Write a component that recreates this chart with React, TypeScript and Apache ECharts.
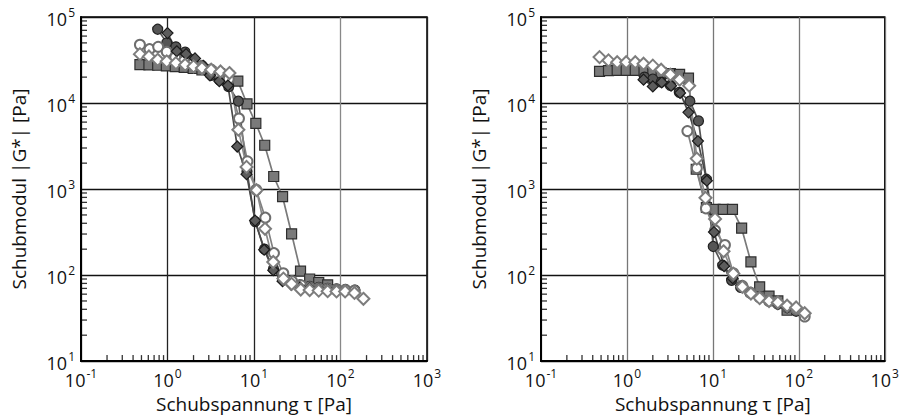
import React, { useEffect, useRef } from "react";
import * as echarts from "echarts";

// ---------- data: left panel ----------
const L_sq_x = [0.48, 0.61, 0.77, 0.97, 1.23, 1.56, 1.98, 2.5, 3.17, 4.0, 5.1, 6.5, 8.3, 10.5, 13.3, 16.9, 21.4, 27.2, 34.5, 44, 56, 71];
const L_sq_y = [28000, 27800, 27500, 27000, 26500, 26000, 25200, 24200, 23000, 22000, 20500, 18000, 9800, 5800, 3230, 1400, 815, 302, 111, 90, 82, 77];

const L_dc_x = [0.77, 0.98, 1.25, 1.6, 2.0, 2.5, 3.2, 4.0, 5.1, 6.6, 8.3, 10.3, 13.2, 16.8, 21.4, 27, 34, 44, 56, 71, 90, 114, 147];
const L_dc_y = [72000, 50000, 45000, 39000, 32000, 26000, 21000, 18500, 15500, 10500, 1600, 419, 200, 118, 92, 82, 77, 74, 72, 70, 69, 68, 67];

const L_oc_x = [0.48, 0.62, 0.78, 0.98, 1.23, 1.56, 1.98, 2.5, 3.17, 4.0, 5.1, 6.7, 8.4, 10.6, 13.5, 17, 21.8, 27.5, 35, 44, 56, 71, 90, 114, 145];
const L_oc_y = [47500, 42300, 45000, 39500, 34000, 31000, 29000, 27000, 24500, 22000, 19000, 6600, 2100, 980, 465, 180, 105, 85, 76, 72, 70, 69, 68, 67, 66];

const L_dd_x = [1.0, 1.28, 1.64, 2.08, 2.6, 3.1, 3.97, 5.0, 6.4, 8.2, 10.3, 13.1, 16.7, 21.4, 27, 34, 44, 56, 71, 90, 114];
const L_dd_y = [65000, 40000, 37000, 33000, 27000, 21000, 18000, 16000, 3120, 1490, 430, 197, 114, 85, 77, 72, 70, 68, 67, 66, 65];

const L_od_x = [0.48, 0.61, 0.77, 0.98, 1.25, 1.6, 2.0, 2.5, 3.2, 4.1, 5.2, 6.6, 8.2, 10.7, 13.4, 16.7, 21.9, 27.2, 34.7, 44, 56, 71, 90, 113, 145, 184];
const L_od_y = [37000, 34800, 31800, 30500, 29100, 27900, 26700, 25500, 24400, 23300, 22300, 4900, 1810, 970, 345, 142, 91, 79, 68, 67, 66, 65, 64.5, 64.5, 62, 53];

// ---------- data: right panel ----------
const R_sq_x = [0.48, 0.61, 0.77, 0.98, 1.25, 1.58, 2.0, 2.5, 3.2, 4.1, 5.2, 6.4, 8.4, 10.6, 13.2, 16.9, 21.6, 27.7, 35, 45, 57, 73];
const R_sq_y = [23300, 23800, 24000, 24000, 24000, 23500, 23000, 22500, 22000, 21500, 19500, 1700, 610, 580, 580, 580, 351, 142, 73, 57, 50, 39];

const R_dc_x = [1.6, 2.0, 2.5, 3.2, 4.07, 5.4, 6.8, 8.4, 10.1, 13, 16.5, 21, 27, 35, 45, 57, 73, 93];
const R_dc_y = [20000, 19000, 17500, 16000, 13300, 10500, 6200, 1300, 215, 130, 87, 72, 62, 55, 50, 46, 42, 38];

const R_oc_x = [5.05, 6.5, 8.3, 10.6, 13.8, 17.3, 22, 27.7, 35, 45, 57, 73, 93, 117];
const R_oc_y = [4720, 1750, 596, 330, 224, 105, 75, 62, 55, 50, 47, 43, 40, 33];

const R_dd_x = [1.56, 2.0, 2.54, 3.26, 4.15, 5.2, 6.7, 8.5, 10.3, 13.5, 17, 21.6, 27.7, 35, 45, 57, 73];
const R_dd_y = [18700, 15600, 17400, 15900, 13100, 7800, 3610, 1250, 316, 127, 92, 74, 62, 55, 50, 46, 42];

const R_od_x = [0.48, 0.61, 0.77, 0.98, 1.25, 1.56, 2.0, 2.5, 3.2, 4.1, 5.3, 6.5, 8.2, 10.6, 13.3, 17.3, 22, 27.7, 35, 45, 57, 73, 93, 117];
const R_od_y = [34200, 31300, 29800, 29800, 29800, 28600, 27200, 24400, 21400, 18700, 15900, 2260, 790, 450, 189, 104, 73, 61, 54, 50, 48, 44, 42, 36];

// ---------- axis texts / ranges ----------
const X_TITLE = "Schubspannung τ [Pa]";
const Y_TITLE = "Schubmodul |G*| [Pa]";
const X_MIN = 0.1, X_MAX = 1000, Y_MIN = 10, Y_MAX = 100000;

// minor tick values (2..9 within each decade)
const minorVals = (lo: number, hi: number) => {
  const out: number[] = [];
  for (let d = lo; d < hi * 0.999; d *= 10) {
    for (let k = 2; k <= 9; k++) out.push(+(d * k).toPrecision(6));
  }
  return out;
};
const X_MINOR = minorVals(X_MIN, X_MAX);
const Y_MINOR = minorVals(Y_MIN, Y_MAX);

const zip = (xs: number[], ys: number[]) => xs.map((x, i) => [x, ys[i]]);

const FONT = "Open Sans";

const fmtExp = (v: number) => {
  const e = Math.round(Math.log10(v));
  return `{b|10}{s|${e}}`;
};

const rich = {
  b: { fontSize: 18, fontFamily: FONT, color: "#111", lineHeight: 22, verticalAlign: "bottom" },
  s: { fontSize: 12, fontFamily: FONT, color: "#111", lineHeight: 12, verticalAlign: "top", padding: [0, 0, 0, 1] },
};

const styles = {
  sq: { symbol: "rect", symbolSize: 10, fill: "#7a7a7a", border: "#2e2e2e", bw: 1.2, line: "#7a7a7a" },
  dc: { symbol: "circle", symbolSize: 10, fill: "#555555", border: "#222222", bw: 1.2, line: "#555555" },
  oc: { symbol: "circle", symbolSize: 10, fill: "#ffffff", border: "#6e6e6e", bw: 2, line: "#808080" },
  dd: { symbol: "diamond", symbolSize: 11, fill: "#5c5c5c", border: "#1a1a1a", bw: 1.2, line: "#4a4a4a" },
  od: { symbol: "diamond", symbolSize: 12, fill: "#ffffff", border: "#7d7d7d", bw: 2, line: "#8a8a8a" },
};

function mkSeries(key: keyof typeof styles, xs: number[], ys: number[], axis: number) {
  const s = styles[key];
  return {
    type: "line",
    xAxisIndex: axis,
    yAxisIndex: axis,
    data: zip(xs, ys),
    symbol: s.symbol,
    symbolSize: s.symbolSize,
    showAllSymbol: true,
    lineStyle: { color: s.line, width: 1.7 },
    itemStyle: { color: s.fill, borderColor: s.border, borderWidth: s.bw, opacity: 1 },
    emphasis: { disabled: true },
  };
}

// minor ticks (inside) as thin rect symbols, positioned through the axis scales
function tickSeries(axis: number, dir: "x" | "y") {
  const vals = dir === "x" ? X_MINOR : Y_MINOR;
  return {
    type: "scatter",
    xAxisIndex: axis,
    yAxisIndex: axis,
    symbol: "rect",
    symbolSize: dir === "x" ? [1.3, 6] : [6, 1.3],
    symbolOffset: dir === "x" ? [0, -3] : [3, 0],
    itemStyle: { color: "#000" },
    data: vals.map((v) => (dir === "x" ? [v, Y_MIN] : [X_MIN, v])),
  };
}

function mainX(grid: number, splitColors: string[]) {
  return {
    type: "log",
    logBase: 10,
    gridIndex: grid,
    min: X_MIN,
    max: X_MAX,
    position: "bottom",
    name: X_TITLE,
    nameLocation: "middle",
    nameGap: 29,
    nameTextStyle: { fontSize: 19, fontFamily: FONT, color: "#111" },
    axisLine: { show: true, onZero: false, lineStyle: { color: "#000", width: 2 } },
    axisTick: { show: false },
    axisLabel: { show: true, margin: 6, formatter: fmtExp, rich },
    splitLine: { show: true, lineStyle: { color: splitColors, width: 1.3 } },
  };
}
function mainY(grid: number) {
  return {
    type: "log",
    logBase: 10,
    gridIndex: grid,
    min: Y_MIN,
    max: Y_MAX,
    position: "left",
    name: Y_TITLE,
    nameLocation: "middle",
    nameGap: 53,
    nameRotate: 90,
    nameTextStyle: { fontSize: 19, fontFamily: FONT, color: "#111" },
    axisLine: { show: true, onZero: false, lineStyle: { color: "#000", width: 2 } },
    axisTick: { show: false },
    axisLabel: { show: true, margin: 6, formatter: fmtExp, rich },
    splitLine: { show: true, lineStyle: { color: "#111", width: 1.3 } },
  };
}

export default function App() {
  const ref = useRef<HTMLDivElement>(null);
  useEffect(() => {
    if (!ref.current) return;
    const chart = echarts.init(ref.current, undefined, { renderer: "svg" });
    chart.setOption({
      animation: false,
      backgroundColor: "#ffffff",
      textStyle: { fontFamily: FONT },
      grid: [
        { left: 81, top: 17, width: 346, height: 346, show: true, borderColor: "#000", borderWidth: 1.5 },
        { left: 541, top: 17, width: 344, height: 346, show: true, borderColor: "#000", borderWidth: 1.5 },
      ],
      xAxis: [
        mainX(0, ["#222", "#222", "#222", "#888", "#222"]),
        mainX(1, ["#777", "#777", "#777", "#777", "#777"]),
      ],
      yAxis: [mainY(0), mainY(1)],
      series: [
        mkSeries("sq", L_sq_x, L_sq_y, 0),
        mkSeries("dc", L_dc_x, L_dc_y, 0),
        mkSeries("oc", L_oc_x, L_oc_y, 0),
        mkSeries("dd", L_dd_x, L_dd_y, 0),
        mkSeries("od", L_od_x, L_od_y, 0),
        mkSeries("sq", R_sq_x, R_sq_y, 1),
        mkSeries("dc", R_dc_x, R_dc_y, 1),
        mkSeries("oc", R_oc_x, R_oc_y, 1),
        mkSeries("dd", R_dd_x, R_dd_y, 1),
        mkSeries("od", R_od_x, R_od_y, 1),
        tickSeries(0, "x"),
        tickSeries(0, "y"),
        tickSeries(1, "x"),
        tickSeries(1, "y"),
      ],
    });
    return () => chart.dispose();
  }, []);
  return (
    <div
      ref={ref}
      style={{ position: "fixed", left: 0, top: 0, width: 902, height: 418, background: "#fff" }}
    />
  );
}
